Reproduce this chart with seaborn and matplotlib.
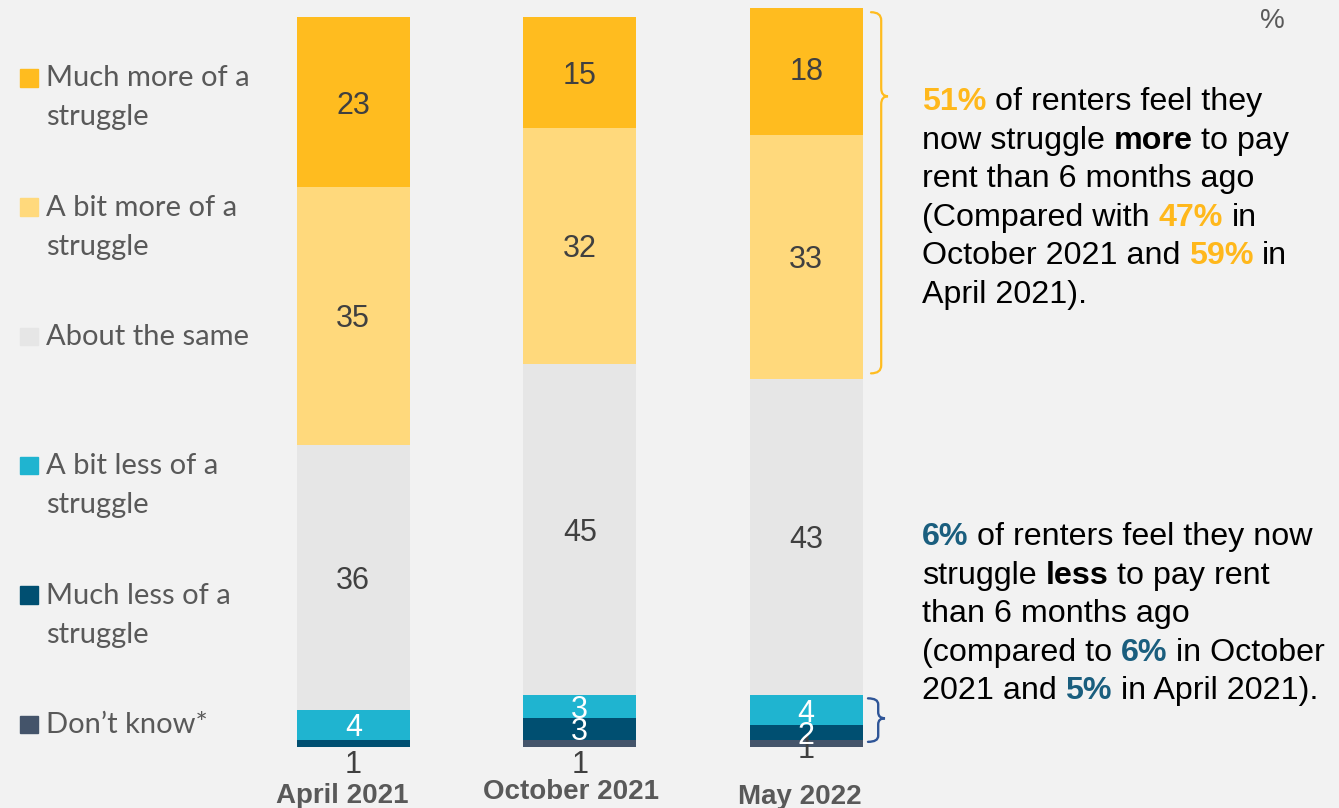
import pandas as pd
import matplotlib.pyplot as plt
import seaborn as sns
from matplotlib.patches import Rectangle, PathPatch
from matplotlib.path import Path
from matplotlib.transforms import ScaledTranslation, IdentityTransform

# data (percent of renters), stacked bottom -> top
waves = ["April 2021", "October 2021", "May 2022"]
dont_know = [0, 1, 1]
much_less = [1, 3, 2]
bit_less = [4, 3, 4]
same = [36, 45, 43]
bit_more = [35, 32, 33]
much_more = [23, 15, 18]

seg_names = ["dont_know", "much_less", "bit_less", "same", "bit_more", "much_more"]
seg_colors = ["#44546A", "#004F71", "#1FB4D0", "#E6E6E6", "#FFD97C", "#FFBC1F"]
label_colors = ["#404040", "white", "white", "#404040", "#404040", "#404040"]

legend_labels = ["Much more of a\nstruggle", "A bit more of a\nstruggle", "About the same",
                 "A bit less of a\nstruggle", "Much less of a\nstruggle", "Don\u2019t know*"]
legend_colors = seg_colors[::-1]

df = pd.DataFrame({"wave": waves, "dont_know": dont_know, "much_less": much_less,
                   "bit_less": bit_less, "same": same, "bit_more": bit_more,
                   "much_more": much_more})
cum = df[seg_names].cumsum(axis=1)
cum["wave"] = waves

sns.set_style("white")
plt.rcParams["font.family"] = ["Liberation Sans", "DejaVu Sans"]

W, H = 1339, 808
BG = "#F2F2F2"
fig = plt.figure(figsize=(W / 100, H / 100), dpi=100, facecolor=BG)
ax = fig.add_axes([240 / W, 61 / H, 679.5 / W, 739.2 / H])
ax.set_facecolor("none")

# stacked bars via overlaid cumulative totals (top layer drawn first)
for name, col in zip(seg_names[::-1], seg_colors[::-1]):
    sns.barplot(data=cum, x="wave", y=name, order=waves, color=col, saturation=1,
                width=0.5, linewidth=0, errorbar=None, ax=ax)

ax.set_xlim(-0.5, 2.5)
ax.set_ylim(0, 100.3)
for s in ax.spines.values():
    s.set_visible(False)
ax.set_yticks([])
ax.set_xlabel("")
ax.set_ylabel("")
ax.set_xticks(range(len(waves)))
ax.set_xticklabels(waves, fontsize=20, fontweight="bold", color="#595959")
ax.tick_params(axis="x", length=0, pad=26)
tick_dx = [-11, -9, -6]
tick_dy = [0, 4, -1]
for lab, dx, dy_ in zip(ax.get_xticklabels(), tick_dx, tick_dy):
    lab.set_transform(lab.get_transform() + ScaledTranslation(dx / 100, dy_ / 100, fig.dpi_scale_trans))

# segment value labels
small_label_y = [-1.9, -1.9, 0.1]
for j in range(len(waves)):
    base = 0
    for k, name in enumerate(seg_names):
        v = df[name][j]
        if v > 0:
            if v <= 1:
                y, c = small_label_y[j], "#404040"
            else:
                y, c = base + v / 2, label_colors[k]
            ax.text(j, y, str(v), ha="center", va="center_baseline", fontsize=22, color=c,
                    clip_on=False)
        base += v


def fx(px):
    return px / W


def fy(py):
    return 1 - py / H


# legend on the left
for i, (lab, col) in enumerate(zip(legend_labels, legend_colors)):
    base = 86.5 + i * 129.3
    fig.add_artist(Rectangle((fx(20), fy(base)), 17.5 / W, 17.5 / H, color=col,
                             transform=fig.transFigure))
    for n, line in enumerate(lab.split("\n")):
        fig.text(fx(46), fy(base + n * 39), line, fontsize=21, color="#595959",
                 family=["Lato", "DejaVu Sans"], va="baseline", ha="left")

fig.text(fx(1272), fy(21), "%", ha="center", va="center", fontsize=20, color="#595959")

# commentary on the right
ORANGE = "#FFB81C"
BLUE = "#1A5E7E"
FS = 23.2
SPACE = 0.27 * FS

block_more = [
    [("51%", "bold", ORANGE), ("of renters feel they", "normal", "black")],
    [("now struggle", "normal", "black"), ("more", "bold", "black"), ("to pay", "normal", "black")],
    [("rent than 6 months ago", "normal", "black")],
    [("(Compared with", "normal", "black"), ("47%", "bold", ORANGE), ("in", "normal", "black")],
    [("October 2021 and", "normal", "black"), ("59%", "bold", ORANGE), ("in", "normal", "black")],
    [("April 2021).", "normal", "black")],
]
block_less = [
    [("6%", "bold", BLUE), ("of renters feel they now", "normal", "black")],
    [("struggle", "normal", "black"), ("less", "bold", "black"), ("to pay rent", "normal", "black")],
    [("than 6 months ago", "normal", "black")],
    [("(compared to", "normal", "black"), ("6%", "bold", BLUE), ("in October", "normal", "black")],
    [("2021 and", "normal", "black"), ("5%", "bold", BLUE), ("in April 2021).", "normal", "black")],
]


def write_block(lines, x0, y0, step):
    for n, runs in enumerate(lines):
        prev = None
        for s, w, c in runs:
            if prev is None:
                prev = fig.text(fx(x0), fy(y0 + n * step), s, fontsize=FS, fontweight=w,
                                color=c, va="baseline", ha="left")
            else:
                prev = ax.annotate(s, xy=(1, 0), xycoords=prev, xytext=(SPACE, 0),
                                   textcoords="offset points", fontsize=FS, fontweight=w,
                                   color=c, va="bottom", ha="left", annotation_clip=False)


write_block(block_more, 922, 110, 38.6)
write_block(block_less, 922, 545, 38.6)


# curly braces next to the May bar
def brace(x, w, y0, y1, ytip, r, color, lw):
    xm = x + w * 0.6
    verts = [(x, y1), (xm, y1), (xm, y1 - r), (xm, ytip + r), (xm, ytip), (x + w, ytip),
             (xm, ytip), (xm, ytip - r), (xm, y0 + r), (xm, y0), (x, y0)]
    codes = [Path.MOVETO, Path.CURVE3, Path.CURVE3, Path.LINETO, Path.CURVE3, Path.CURVE3,
             Path.CURVE3, Path.CURVE3, Path.LINETO, Path.CURVE3, Path.CURVE3]
    fig.add_artist(PathPatch(Path(verts, codes), fill=False, edgecolor=color, lw=lw,
                             transform=IdentityTransform(), capstyle="round"))


def dy(v):
    return ax.transData.transform((0, v))[1]


brace(871, 17, dy(50.7), dy(99.7), dy(88.3), 8, "#FFBC1F", 1.6)
brace(868, 17, dy(0.7), dy(6.6), dy(3.9), 6, "#2F5597", 1.7)

fig.savefig("out.png", dpi=100, facecolor=BG)
